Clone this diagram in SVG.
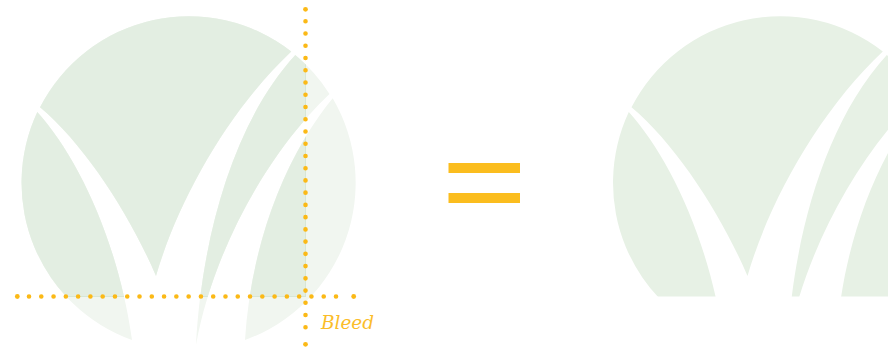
<svg xmlns="http://www.w3.org/2000/svg" width="888" height="349" viewBox="0 0 888 349">
<style>
.light{fill:#f1f6f0}.dark{fill:#e3eee2}.edge{fill:#d7e6d6}.right{fill:#e7f1e5}
.dot{fill:#fbb916}.dots{fill:none;stroke:#fbb916;stroke-width:4.6;stroke-linecap:round}
.bar{fill:#fbbd1e}
.lbl{font-family:"DejaVu Serif",serif;font-style:italic;font-size:18.4px;fill:#fbbd2a}
</style>
<defs>
<path id="logo" d="M40 107.3A167 167 0 0 1 291.3 51.5C229 110 178 200 156 276C130 215 85 145 40 107.3ZM37.3 112C77 156 118 240 132 340A167 167 0 0 1 37.3 112ZM295.3 55A167 167 0 0 1 329.5 94C265 155 212 255 196 345C201 245 231 125 295.3 55ZM332.7 98.3A167 167 0 0 1 245 340C250.500 250 282 160 332.7 98.3Z"/>
<clipPath id="bleed"><rect x="0" y="0" width="305" height="296"/></clipPath>
<clipPath id="rim"><path d="M305 0H306V297H0V296H305Z"/></clipPath>
<clipPath id="cut"><rect x="500" y="0" width="388" height="296.5"/></clipPath>
</defs>
<g id="logo-with-bleed">
<use href="#logo" class="light"/>
<use href="#logo" class="dark" clip-path="url(#bleed)"/>
<use href="#logo" class="edge" clip-path="url(#rim)"/>
</g>
<g id="logo-trimmed" clip-path="url(#cut)">
<use href="#logo" class="right" x="591.5"/>
</g>
<g id="bleed-guides">
<path class="dots" stroke-dasharray="0 12.24" d="M305.5 21.3V328"/>
<path class="dots" stroke-dasharray="0 12.28" d="M29 296.500H337"/>
<circle class="dot" cx="305.5" cy="9.3" r="2.4"/>
<circle class="dot" cx="305.5" cy="344.3" r="2.4"/>
<circle class="dot" cx="17.3" cy="296.5" r="2.4"/>
<circle class="dot" cx="353.7" cy="296.5" r="2.4"/>
</g>
<text id="bleed-label" class="lbl" x="321" y="329">Bleed</text>
<g id="equals">
<rect class="bar" x="448.5" y="163" width="71.5" height="10"/>
<rect class="bar" x="448.5" y="193" width="71.5" height="10"/>
</g>
</svg>
